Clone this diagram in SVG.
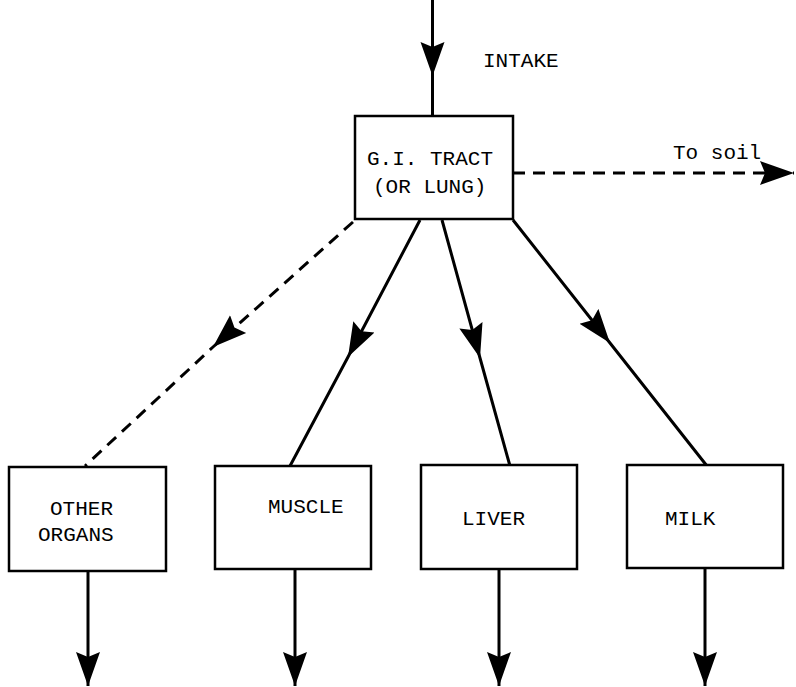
<svg xmlns="http://www.w3.org/2000/svg" width="796" height="687" viewBox="0 0 796 687">
<style>
.box{fill:#fff;stroke:#000;stroke-width:2.5}
.lbl{font-family:"Liberation Mono","Courier New",monospace;font-size:21px;fill:#000}
.ln{fill:none;stroke:#000;stroke-width:3}
.dash{stroke-dasharray:12 8}
</style>
<defs>
<marker id="ah" markerUnits="userSpaceOnUse" markerWidth="36" markerHeight="26" refX="34" refY="13" orient="auto" viewBox="0 0 36 26">
<path d="M0,1 L34,13 L0,25 L5,13 Z" fill="#000" stroke="none"/>
</marker>
</defs>
<rect width="796" height="687" fill="#fff"/>
<g id="connectors">
<path class="ln" d="M432.5,0 L432.5,76 L432.5,116" marker-mid="url(#ah)"/>
<path class="ln dash" d="M513,173 L794,173" marker-end="url(#ah)"/>
<path class="ln dash" d="M353,222 L213,347 L85,466" marker-mid="url(#ah)"/>
<path class="ln" d="M420,220 L348,357 L290,466" marker-mid="url(#ah)"/>
<path class="ln" d="M442,220 L480,358 L510,466" marker-mid="url(#ah)"/>
<path class="ln" d="M513,220 L610,343 L707,466" marker-mid="url(#ah)"/>
<path class="ln" d="M88,571 L88,686" marker-end="url(#ah)"/>
<path class="ln" d="M295,569 L295,686" marker-end="url(#ah)"/>
<path class="ln" d="M499,569 L499,686" marker-end="url(#ah)"/>
<path class="ln" d="M705,568 L705,686" marker-end="url(#ah)"/>
</g>
<text class="lbl" x="483" y="67">INTAKE</text>
<text class="lbl" x="673" y="159">To soil</text>
<g id="gi">
<rect class="box" x="355" y="116" width="158" height="103"/>
<text class="lbl" x="367" y="165">G.I. TRACT</text>
<text class="lbl" x="373" y="193">(OR LUNG)</text>
</g>
<g id="other">
<rect class="box" x="9" y="467" width="157" height="104"/>
<text class="lbl" x="50" y="515">OTHER</text>
<text class="lbl" x="38" y="541">ORGANS</text>
</g>
<g id="muscle">
<rect class="box" x="215" y="466" width="156" height="103"/>
<text class="lbl" x="268" y="513">MUSCLE</text>
</g>
<g id="liver">
<rect class="box" x="421" y="465" width="156" height="104"/>
<text class="lbl" x="462" y="525">LIVER</text>
</g>
<g id="milk">
<rect class="box" x="627" y="465" width="156" height="103"/>
<text class="lbl" x="665" y="525">MILK</text>
</g>
</svg>
